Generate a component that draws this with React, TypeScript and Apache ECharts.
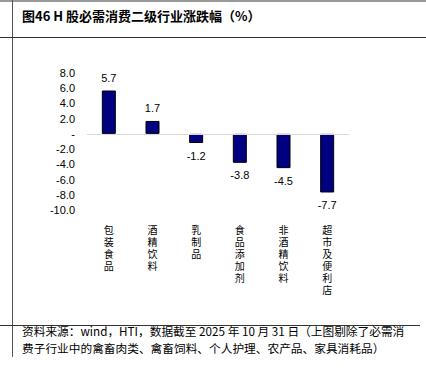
import React, { useEffect, useRef } from "react";
import * as echarts from "echarts";

const categories = ["包装食品", "酒精饮料", "乳制品", "食品添加剂", "非酒精饮料", "超市及便利店"];
const values = [5.7, 1.7, -1.2, -3.8, -4.5, -7.7];
const yMin = -10;
const yMax = 8;
const yStep = 2;
const title = "图46 H 股必需消费二级行业涨跌幅（%）";
const source1 = "资料来源：wind，HTI，数据截至 2025 年 10 月 31 日（上图剔除了必需消";
const source2 = "费子行业中的禽畜肉类、禽畜饲料、个人护理、农产品、家具消耗品）";

export default function App() {
  const ref = useRef<HTMLDivElement>(null);
  useEffect(() => {
    const chart = echarts.init(ref.current!, null, { renderer: "svg" });
    chart.setOption({
      animation: false,
      backgroundColor: "#fff",
      grid: { left: 87, right: 77, top: 73, bottom: 160 },
      xAxis: {
        type: "category",
        data: categories,
        axisLine: { show: false, onZero: false },
        axisTick: { show: false },
        axisLabel: {
          margin: 14,
          interval: 0,
          fontSize: 10,
          lineHeight: 12,
          color: "#000",
          fontFamily: "Liberation Sans, Noto Sans CJK SC",
          verticalAlign: "top",
          formatter: (v: string) => v.split("").join("\n"),
        },
      },
      yAxis: {
        type: "value",
        min: yMin,
        max: yMax,
        interval: yStep,
        axisLine: { show: false },
        axisTick: { show: false },
        splitLine: { show: false },
        axisLabel: {
          margin: 12,
          fontSize: 11,
          color: "#000",
          fontFamily: "Liberation Sans",
          formatter: (v: number) => (v === 0 ? "-" : v.toFixed(1)),
        },
      },
      series: [
        {
          type: "bar",
          data: values.map((v) => ({
            value: v,
            label: { position: v >= 0 ? "top" : "bottom" },
          })),
          barWidth: 14,
          itemStyle: { color: "#000080", borderColor: "#000", borderWidth: 1 },
          label: {
            show: true,
            distance: 7,
            fontSize: 11,
            color: "#000",
            fontFamily: "Liberation Sans",
            formatter: (p: any) => Number(p.value).toFixed(1),
          },
          markLine: {
            silent: true,
            symbol: "none",
            label: { show: false },
            lineStyle: { color: "#d9d9d9", width: 1, type: "solid" },
            data: [{ yAxis: 0 }],
          },
        },
      ],
      graphic: [
        { type: "line", shape: { x1: 0, y1: 1, x2: 426, y2: 1 }, style: { stroke: "#999", lineWidth: 2 } },
        { type: "line", shape: { x1: 12.5, y1: 0, x2: 12.5, y2: 357 }, style: { stroke: "#555", lineWidth: 1 } },
        { type: "line", shape: { x1: 0, y1: 37.5, x2: 426, y2: 37.5 }, style: { stroke: "#333", lineWidth: 1 } },
        { type: "line", shape: { x1: 0, y1: 325.5, x2: 420, y2: 325.5 }, style: { stroke: "#333", lineWidth: 1 } },
        {
          type: "text",
          left: 22,
          top: 9,
          style: { text: title, fontSize: 13, fontWeight: "bold", fill: "#000", fontFamily: "Noto Sans CJK SC" },
        },
        {
          type: "text",
          left: 22,
          top: 325,
          style: { text: source1, fontSize: 11.7, fill: "#000", fontFamily: "Noto Sans CJK SC" },
        },
        {
          type: "text",
          left: 22,
          top: 342,
          style: { text: source2, fontSize: 11.7, fill: "#000", fontFamily: "Noto Sans CJK SC" },
        },
      ],
    });
    return () => chart.dispose();
  }, []);
  return (
    <div
      ref={ref}
      style={{ position: "fixed", left: 0, top: 0, width: 426, height: 370 }}
    />
  );
}
